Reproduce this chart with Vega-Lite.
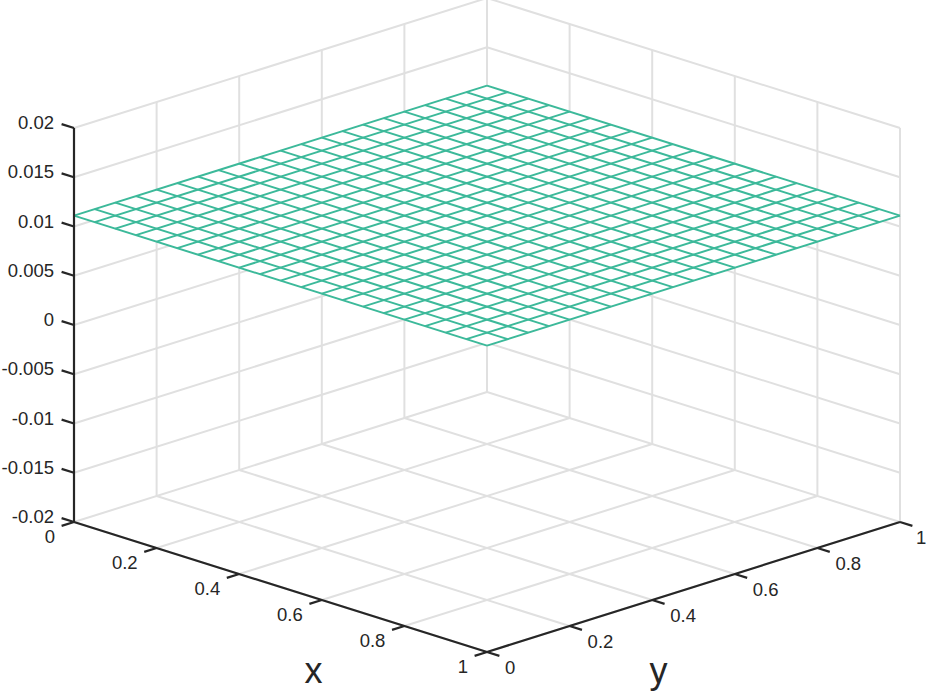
{"$schema":"https://vega.github.io/schema/vega-lite/v6.json","width":926,"height":694,"padding":0,"autosize":{"type":"none"},"background":"white","view":{"stroke":null},
"data":{"values":[
{"kind":"grid","x0":0,"y0":0,"z0":-0.02,"x1":0,"y1":1,"z1":-0.02},{"kind":"grid","x0":0.2,"y0":0,"z0":-0.02,"x1":0.2,"y1":1,"z1":-0.02},{"kind":"grid","x0":0.4,"y0":0,"z0":-0.02,"x1":0.4,"y1":1,"z1":-0.02},{"kind":"grid","x0":0.6,"y0":0,"z0":-0.02,"x1":0.6,"y1":1,"z1":-0.02},{"kind":"grid","x0":0.8,"y0":0,"z0":-0.02,"x1":0.8,"y1":1,"z1":-0.02},{"kind":"grid","x0":1,"y0":0,"z0":-0.02,"x1":1,"y1":1,"z1":-0.02},
{"kind":"grid","x0":0,"y0":0,"z0":-0.02,"x1":1,"y1":0,"z1":-0.02},{"kind":"grid","x0":0,"y0":0.2,"z0":-0.02,"x1":1,"y1":0.2,"z1":-0.02},{"kind":"grid","x0":0,"y0":0.4,"z0":-0.02,"x1":1,"y1":0.4,"z1":-0.02},{"kind":"grid","x0":0,"y0":0.6,"z0":-0.02,"x1":1,"y1":0.6,"z1":-0.02},{"kind":"grid","x0":0,"y0":0.8,"z0":-0.02,"x1":1,"y1":0.8,"z1":-0.02},{"kind":"grid","x0":0,"y0":1,"z0":-0.02,"x1":1,"y1":1,"z1":-0.02},
{"kind":"grid","x0":0,"y0":1,"z0":-0.02,"x1":0,"y1":1,"z1":0.02},{"kind":"grid","x0":0.2,"y0":1,"z0":-0.02,"x1":0.2,"y1":1,"z1":0.02},{"kind":"grid","x0":0.4,"y0":1,"z0":-0.02,"x1":0.4,"y1":1,"z1":0.02},{"kind":"grid","x0":0.6,"y0":1,"z0":-0.02,"x1":0.6,"y1":1,"z1":0.02},{"kind":"grid","x0":0.8,"y0":1,"z0":-0.02,"x1":0.8,"y1":1,"z1":0.02},{"kind":"grid","x0":1,"y0":1,"z0":-0.02,"x1":1,"y1":1,"z1":0.02},
{"kind":"grid","x0":0,"y0":0.2,"z0":-0.02,"x1":0,"y1":0.2,"z1":0.02},{"kind":"grid","x0":0,"y0":0.4,"z0":-0.02,"x1":0,"y1":0.4,"z1":0.02},{"kind":"grid","x0":0,"y0":0.6,"z0":-0.02,"x1":0,"y1":0.6,"z1":0.02},{"kind":"grid","x0":0,"y0":0.8,"z0":-0.02,"x1":0,"y1":0.8,"z1":0.02},
{"kind":"grid","x0":0,"y0":0,"z0":-0.015,"x1":0,"y1":1,"z1":-0.015},{"kind":"grid","x0":0,"y0":0,"z0":-0.01,"x1":0,"y1":1,"z1":-0.01},{"kind":"grid","x0":0,"y0":0,"z0":-0.005,"x1":0,"y1":1,"z1":-0.005},{"kind":"grid","x0":0,"y0":0,"z0":0,"x1":0,"y1":1,"z1":0},{"kind":"grid","x0":0,"y0":0,"z0":0.005,"x1":0,"y1":1,"z1":0.005},{"kind":"grid","x0":0,"y0":0,"z0":0.01,"x1":0,"y1":1,"z1":0.01},{"kind":"grid","x0":0,"y0":0,"z0":0.015,"x1":0,"y1":1,"z1":0.015},{"kind":"grid","x0":0,"y0":0,"z0":0.02,"x1":0,"y1":1,"z1":0.02},
{"kind":"grid","x0":0,"y0":1,"z0":-0.015,"x1":1,"y1":1,"z1":-0.015},{"kind":"grid","x0":0,"y0":1,"z0":-0.01,"x1":1,"y1":1,"z1":-0.01},{"kind":"grid","x0":0,"y0":1,"z0":-0.005,"x1":1,"y1":1,"z1":-0.005},{"kind":"grid","x0":0,"y0":1,"z0":0,"x1":1,"y1":1,"z1":0},{"kind":"grid","x0":0,"y0":1,"z0":0.005,"x1":1,"y1":1,"z1":0.005},{"kind":"grid","x0":0,"y0":1,"z0":0.01,"x1":1,"y1":1,"z1":0.01},{"kind":"grid","x0":0,"y0":1,"z0":0.015,"x1":1,"y1":1,"z1":0.015},{"kind":"grid","x0":0,"y0":1,"z0":0.02,"x1":1,"y1":1,"z1":0.02},
{"kind":"face","x0":0,"y0":0,"z0":0.0111,"x1":0,"y1":0,"z1":0.0111},{"kind":"face","x0":0,"y0":1,"z0":0.0111,"x1":1,"y1":0,"z1":0.0111},{"kind":"face","x0":1,"y0":1,"z0":0.0111,"x1":1,"y1":1,"z1":0.0111},
{"kind":"surface","x0":0,"y0":0,"z0":0.0111,"x1":0,"y1":1,"z1":0.0111},{"kind":"surface","x0":0.05,"y0":0,"z0":0.0111,"x1":0.05,"y1":1,"z1":0.0111},{"kind":"surface","x0":0.1,"y0":0,"z0":0.0111,"x1":0.1,"y1":1,"z1":0.0111},{"kind":"surface","x0":0.15,"y0":0,"z0":0.0111,"x1":0.15,"y1":1,"z1":0.0111},{"kind":"surface","x0":0.2,"y0":0,"z0":0.0111,"x1":0.2,"y1":1,"z1":0.0111},{"kind":"surface","x0":0.25,"y0":0,"z0":0.0111,"x1":0.25,"y1":1,"z1":0.0111},{"kind":"surface","x0":0.3,"y0":0,"z0":0.0111,"x1":0.3,"y1":1,"z1":0.0111},{"kind":"surface","x0":0.35,"y0":0,"z0":0.0111,"x1":0.35,"y1":1,"z1":0.0111},{"kind":"surface","x0":0.4,"y0":0,"z0":0.0111,"x1":0.4,"y1":1,"z1":0.0111},{"kind":"surface","x0":0.45,"y0":0,"z0":0.0111,"x1":0.45,"y1":1,"z1":0.0111},{"kind":"surface","x0":0.5,"y0":0,"z0":0.0111,"x1":0.5,"y1":1,"z1":0.0111},{"kind":"surface","x0":0.55,"y0":0,"z0":0.0111,"x1":0.55,"y1":1,"z1":0.0111},{"kind":"surface","x0":0.6,"y0":0,"z0":0.0111,"x1":0.6,"y1":1,"z1":0.0111},{"kind":"surface","x0":0.65,"y0":0,"z0":0.0111,"x1":0.65,"y1":1,"z1":0.0111},{"kind":"surface","x0":0.7,"y0":0,"z0":0.0111,"x1":0.7,"y1":1,"z1":0.0111},{"kind":"surface","x0":0.75,"y0":0,"z0":0.0111,"x1":0.75,"y1":1,"z1":0.0111},{"kind":"surface","x0":0.8,"y0":0,"z0":0.0111,"x1":0.8,"y1":1,"z1":0.0111},{"kind":"surface","x0":0.85,"y0":0,"z0":0.0111,"x1":0.85,"y1":1,"z1":0.0111},{"kind":"surface","x0":0.9,"y0":0,"z0":0.0111,"x1":0.9,"y1":1,"z1":0.0111},{"kind":"surface","x0":0.95,"y0":0,"z0":0.0111,"x1":0.95,"y1":1,"z1":0.0111},{"kind":"surface","x0":1,"y0":0,"z0":0.0111,"x1":1,"y1":1,"z1":0.0111},
{"kind":"surface","x0":0,"y0":0,"z0":0.0111,"x1":1,"y1":0,"z1":0.0111},{"kind":"surface","x0":0,"y0":0.05,"z0":0.0111,"x1":1,"y1":0.05,"z1":0.0111},{"kind":"surface","x0":0,"y0":0.1,"z0":0.0111,"x1":1,"y1":0.1,"z1":0.0111},{"kind":"surface","x0":0,"y0":0.15,"z0":0.0111,"x1":1,"y1":0.15,"z1":0.0111},{"kind":"surface","x0":0,"y0":0.2,"z0":0.0111,"x1":1,"y1":0.2,"z1":0.0111},{"kind":"surface","x0":0,"y0":0.25,"z0":0.0111,"x1":1,"y1":0.25,"z1":0.0111},{"kind":"surface","x0":0,"y0":0.3,"z0":0.0111,"x1":1,"y1":0.3,"z1":0.0111},{"kind":"surface","x0":0,"y0":0.35,"z0":0.0111,"x1":1,"y1":0.35,"z1":0.0111},{"kind":"surface","x0":0,"y0":0.4,"z0":0.0111,"x1":1,"y1":0.4,"z1":0.0111},{"kind":"surface","x0":0,"y0":0.45,"z0":0.0111,"x1":1,"y1":0.45,"z1":0.0111},{"kind":"surface","x0":0,"y0":0.5,"z0":0.0111,"x1":1,"y1":0.5,"z1":0.0111},{"kind":"surface","x0":0,"y0":0.55,"z0":0.0111,"x1":1,"y1":0.55,"z1":0.0111},{"kind":"surface","x0":0,"y0":0.6,"z0":0.0111,"x1":1,"y1":0.6,"z1":0.0111},{"kind":"surface","x0":0,"y0":0.65,"z0":0.0111,"x1":1,"y1":0.65,"z1":0.0111},{"kind":"surface","x0":0,"y0":0.7,"z0":0.0111,"x1":1,"y1":0.7,"z1":0.0111},{"kind":"surface","x0":0,"y0":0.75,"z0":0.0111,"x1":1,"y1":0.75,"z1":0.0111},{"kind":"surface","x0":0,"y0":0.8,"z0":0.0111,"x1":1,"y1":0.8,"z1":0.0111},{"kind":"surface","x0":0,"y0":0.85,"z0":0.0111,"x1":1,"y1":0.85,"z1":0.0111},{"kind":"surface","x0":0,"y0":0.9,"z0":0.0111,"x1":1,"y1":0.9,"z1":0.0111},{"kind":"surface","x0":0,"y0":0.95,"z0":0.0111,"x1":1,"y1":0.95,"z1":0.0111},{"kind":"surface","x0":0,"y0":1,"z0":0.0111,"x1":1,"y1":1,"z1":0.0111},
{"kind":"axis","x0":0,"y0":0,"z0":-0.02,"x1":1,"y1":0,"z1":-0.02},{"kind":"axis","x0":1,"y0":0,"z0":-0.02,"x1":1,"y1":1,"z1":-0.02},{"kind":"axis","x0":0,"y0":0,"z0":-0.02,"x1":0,"y1":0,"z1":0.02},
{"kind":"ztick","label":"-0.02","x0":0,"y0":0,"z0":-0.02,"x1":-0.03,"y1":0,"z1":-0.02},{"kind":"ztick","label":"-0.015","x0":0,"y0":0,"z0":-0.015,"x1":-0.03,"y1":0,"z1":-0.015},{"kind":"ztick","label":"-0.01","x0":0,"y0":0,"z0":-0.01,"x1":-0.03,"y1":0,"z1":-0.01},{"kind":"ztick","label":"-0.005","x0":0,"y0":0,"z0":-0.005,"x1":-0.03,"y1":0,"z1":-0.005},{"kind":"ztick","label":"0","x0":0,"y0":0,"z0":0,"x1":-0.03,"y1":0,"z1":0},{"kind":"ztick","label":"0.005","x0":0,"y0":0,"z0":0.005,"x1":-0.03,"y1":0,"z1":0.005},{"kind":"ztick","label":"0.01","x0":0,"y0":0,"z0":0.01,"x1":-0.03,"y1":0,"z1":0.01},{"kind":"ztick","label":"0.015","x0":0,"y0":0,"z0":0.015,"x1":-0.03,"y1":0,"z1":0.015},{"kind":"ztick","label":"0.02","x0":0,"y0":0,"z0":0.02,"x1":-0.03,"y1":0,"z1":0.02},
{"kind":"xtick","label":"0","x0":0,"y0":0,"z0":-0.02,"x1":0,"y1":-0.03,"z1":-0.02},{"kind":"xtick","label":"0.2","x0":0.2,"y0":0,"z0":-0.02,"x1":0.2,"y1":-0.03,"z1":-0.02},{"kind":"xtick","label":"0.4","x0":0.4,"y0":0,"z0":-0.02,"x1":0.4,"y1":-0.03,"z1":-0.02},{"kind":"xtick","label":"0.6","x0":0.6,"y0":0,"z0":-0.02,"x1":0.6,"y1":-0.03,"z1":-0.02},{"kind":"xtick","label":"0.8","x0":0.8,"y0":0,"z0":-0.02,"x1":0.8,"y1":-0.03,"z1":-0.02},{"kind":"xtick","label":"1","x0":1,"y0":0,"z0":-0.02,"x1":1,"y1":-0.03,"z1":-0.02},
{"kind":"ytick","label":"0","x0":1,"y0":0,"z0":-0.02,"x1":1.03,"y1":0,"z1":-0.02},{"kind":"ytick","label":"0.2","x0":1,"y0":0.2,"z0":-0.02,"x1":1.03,"y1":0.2,"z1":-0.02},{"kind":"ytick","label":"0.4","x0":1,"y0":0.4,"z0":-0.02,"x1":1.03,"y1":0.4,"z1":-0.02},{"kind":"ytick","label":"0.6","x0":1,"y0":0.6,"z0":-0.02,"x1":1.03,"y1":0.6,"z1":-0.02},{"kind":"ytick","label":"0.8","x0":1,"y0":0.8,"z0":-0.02,"x1":1.03,"y1":0.8,"z1":-0.02},{"kind":"ytick","label":"1","x0":1,"y0":1,"z0":-0.02,"x1":1.03,"y1":1,"z1":-0.02},
{"kind":"xtitle","label":"x","x0":0.5,"y0":0,"z0":-0.02,"x1":0.5,"y1":0,"z1":-0.02},{"kind":"ytitle","label":"y","x0":1,"y0":0.5,"z0":-0.02,"x1":1,"y1":0.5,"z1":-0.02}
]},
"transform":[
{"calculate":"74+413*(datum.x0+datum.y0)","as":"px0"},
{"calculate":"522+130*(datum.x0-datum.y0)-9850*(datum.z0+0.02)","as":"py0"},
{"calculate":"74+413*(datum.x1+datum.y1)","as":"px1"},
{"calculate":"522+130*(datum.x1-datum.y1)-9850*(datum.z1+0.02)","as":"py1"}
],
"encoding":{
"x":{"field":"px0","type":"quantitative","scale":{"domain":[0,926]},"axis":null},
"y":{"field":"py0","type":"quantitative","scale":{"domain":[0,694],"reverse":true},"axis":null}
},
"layer":[
{"transform":[{"filter":"datum.kind==='grid'"}],"mark":{"type":"rule","stroke":"#e0e0e0","strokeWidth":2},"encoding":{"x2":{"field":"px1"},"y2":{"field":"py1"}}},
{"transform":[{"filter":"datum.kind==='face'"}],"mark":{"type":"area","fill":"white","opacity":1},"encoding":{"y2":{"field":"py1"}}},
{"transform":[{"filter":"datum.kind==='surface'"}],"mark":{"type":"rule","stroke":"#3cb99a","strokeWidth":2},"encoding":{"x2":{"field":"px1"},"y2":{"field":"py1"}}},
{"transform":[{"filter":"datum.kind==='axis'||datum.kind==='xtick'||datum.kind==='ytick'||datum.kind==='ztick'"}],"mark":{"type":"rule","stroke":"#262626","strokeWidth":2.2},"encoding":{"x2":{"field":"px1"},"y2":{"field":"py1"}}},
{"transform":[{"filter":"datum.kind==='ztick'"}],"mark":{"type":"text","align":"right","baseline":"middle","font":"Liberation Sans","fontSize":18.5,"fill":"#262626","dx":-20,"dy":-5},"encoding":{"text":{"field":"label"}}},
{"transform":[{"filter":"datum.kind==='xtick'"}],"mark":{"type":"text","align":"right","baseline":"middle","font":"Liberation Sans","fontSize":18.5,"fill":"#262626","dx":-19,"dy":15},"encoding":{"text":{"field":"label"}}},
{"transform":[{"filter":"datum.kind==='ytick'&&datum.label!=='1'"}],"mark":{"type":"text","align":"left","baseline":"middle","font":"Liberation Sans","fontSize":18.5,"fill":"#262626","dx":18,"dy":16},"encoding":{"text":{"field":"label"}}},
{"transform":[{"filter":"datum.kind==='ytick'&&datum.label==='1'"}],"mark":{"type":"text","align":"left","baseline":"middle","font":"Liberation Sans","fontSize":18.5,"fill":"#262626","dx":16,"dy":16},"encoding":{"text":{"field":"label"}}},
{"transform":[{"filter":"datum.kind==='xtitle'"}],"mark":{"type":"text","align":"center","baseline":"middle","font":"Liberation Sans","fontSize":36,"fill":"#262626","dx":33,"dy":85},"encoding":{"text":{"field":"label"}}},
{"transform":[{"filter":"datum.kind==='ytitle'"}],"mark":{"type":"text","align":"center","baseline":"middle","font":"Liberation Sans","fontSize":36,"fill":"#262626","dx":-35,"dy":85},"encoding":{"text":{"field":"label"}}}
]}
